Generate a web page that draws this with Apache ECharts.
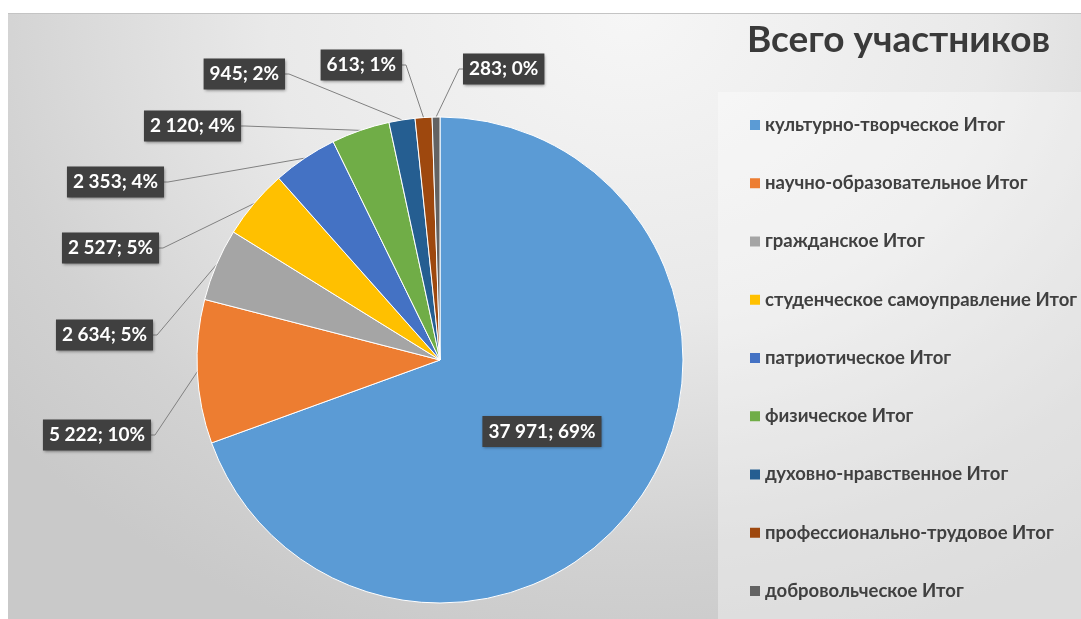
<!DOCTYPE html>
<html>
<head>
<meta charset="utf-8">
<script src="https://cdn.jsdelivr.net/npm/echarts@6/dist/echarts.min.js"></script>
<style>
  body { margin: 0; background: #fff; }
  #wrap { position: relative; width: 1081px; height: 619px; overflow: hidden; }
  #panel {
    position: absolute; left: 8px; top: 13px; right: 0; bottom: 0;
    border-top: 1px solid #c4c4c4;
    background: radial-gradient(ellipse 75% 110% at 58% 0%, #f6f6f6 0%, #e9e9e9 45%, #d2d2d2 80%, #c9c9c9 100%);
  }
  #chart { position: absolute; left: 0; top: 0; width: 1081px; height: 619px; }
</style>
</head>
<body>
<div id="wrap">
  <div id="panel"></div>
  <div id="chart"></div>
</div>
<script>
  // Data
  const categories = [
    'культурно-творческое Итог',
    'научно-образовательное Итог',
    'гражданское Итог',
    'студенческое самоуправление Итог',
    'патриотическое Итог',
    'физическое Итог',
    'духовно-нравственное Итог',
    'профессионально-трудовое Итог',
    'добровольческое Итог'
  ];
  const values = [37971, 5222, 2634, 2527, 2353, 2120, 945, 613, 283];
  const colors = ['#5B9BD5', '#ED7D31', '#A5A5A5', '#FFC000', '#4472C4', '#70AD47', '#255E91', '#9E480E', '#636363'];

  // where the outside label boxes sit (anchor x, middle y, side of box at x)
  const labelAnchors = [
    null,
    [151, 435, 'right'],
    [153, 335, 'right'],
    [159, 248, 'right'],
    [164, 182, 'right'],
    [241, 126, 'right'],
    [285, 74, 'right'],
    [402, 65, 'right'],
    [463, 69, 'left']
  ];

  const fmt = v => String(v).replace(/\B(?=(\d{3})+(?!\d))/g, ' ');

  const chart = echarts.init(document.getElementById('chart'));

  const option = {
    color: colors,
    animation: false,
    graphic: [
      {
        type: 'rect',
        left: 718, top: 92, z: -10,
        shape: { width: 363, height: 527 },
        style: { fill: 'rgba(255,255,255,0.35)' }
      }
    ],
    title: {
      text: 'Всего участников',
      left: 747,
      top: 22,
      padding: 0,
      textStyle: {
        fontFamily: 'Lato, "Open Sans", sans-serif',
        fontSize: 37,
        fontWeight: 'bold',
        color: '#3a3a3a'
      }
    },
    legend: {
      orient: 'vertical',
      left: 745,
      top: 110,
      icon: 'rect',
      itemWidth: 10,
      itemHeight: 10,
      itemGap: 38.25,
      itemStyle: { borderWidth: 0 },
      data: categories,
      textStyle: {
        fontFamily: 'Lato, "Open Sans", sans-serif',
        fontSize: 18.5,
        fontWeight: 'bold',
        color: '#404040',
        lineHeight: 20
      }
    },
    series: [
      {
        type: 'pie',
        center: [440, 360],
        radius: 243,
        startAngle: 90,
        clockwise: true,
        percentPrecision: 0,
        itemStyle: { borderColor: '#ffffff', borderWidth: 1 },
        label: {
          position: 'outside',
          formatter: p => fmt(p.value) + '; ' + p.percent + '%',
          fontFamily: 'Lato, "Open Sans", sans-serif',
          fontSize: 19,
          fontWeight: 'bold',
          color: '#ffffff',
          backgroundColor: '#404040',
          padding: [5, 6],
          lineHeight: 21,
          shadowColor: 'rgba(0,0,0,0.45)',
          shadowBlur: 3,
          shadowOffsetX: 1,
          shadowOffsetY: 1
        },
        labelLine: {
          show: true,
          length: 10,
          length2: 4,
          lineStyle: { color: '#808080', width: 1 }
        },
        labelLayout: params => {
          const a = labelAnchors[params.dataIndex];
          if (!a) return {};
          return { x: a[0], y: a[1], align: a[2], verticalAlign: 'middle' };
        },
        emphasis: { disabled: true },
        data: categories.map((name, i) => {
          const item = { name: name, value: values[i] };
          if (i === 0) {
            item.label = { position: 'inside' };
            item.labelLine = { show: false };
          }
          return item;
        })
      }
    ]
  };

  chart.setOption(option);
</script>
</body>
</html>
